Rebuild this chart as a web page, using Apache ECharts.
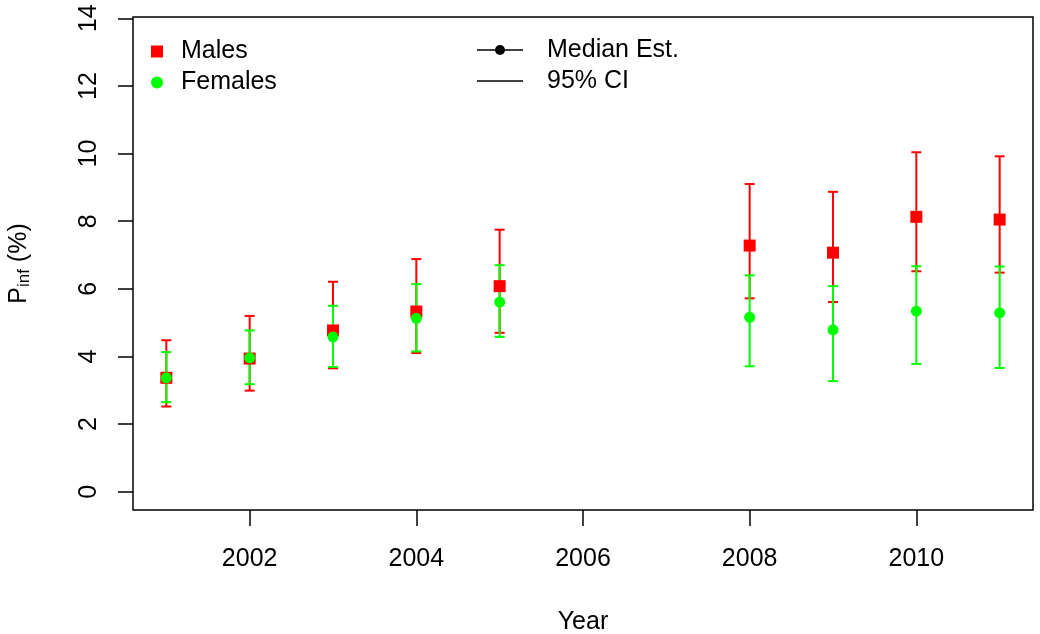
<!DOCTYPE html>
<html>
<head>
    <meta charset="utf-8">
    <script src="https://cdn.jsdelivr.net/npm/echarts@6/dist/echarts.min.js"></script>
    <style>
        html, body { margin: 0; padding: 0; background: #fff; }
    </style>
</head>
<body>
    <div id="main" style="width: 1040px;height:634px;"></div>
</body>
</html>

<script type="text/javascript">

// data
var years = [2001, 2002, 2003, 2004, 2005, 2008, 2009, 2010, 2011];

var maleMed  = [3.37, 3.94, 4.77, 5.33, 6.08, 7.28, 7.07, 8.13, 8.05];
var maleLow  = [2.52, 2.99, 3.65, 4.10, 4.70, 5.72, 5.61, 6.52, 6.48];
var maleHigh = [4.48, 5.20, 6.21, 6.88, 7.75, 9.10, 8.87, 10.04, 9.92];

var femMed  = [3.37, 3.96, 4.58, 5.13, 5.61, 5.16, 4.79, 5.34, 5.29];
var femLow  = [2.65, 3.18, 3.69, 4.15, 4.58, 3.71, 3.27, 3.78, 3.66];
var femHigh = [4.13, 4.77, 5.50, 6.14, 6.70, 6.40, 6.08, 6.67, 6.66];

var xTicks = [2002, 2004, 2006, 2008, 2010];
var yTicks = [0, 2, 4, 6, 8, 10, 12, 14];

var FONT = 'Liberation Sans, Arial, Helvetica, sans-serif';
var RED = '#ff0000';
var GREEN = '#00ff00';

// vertical CI line with little caps
function ciSeries(name, lo, hi, color) {
    return {
        name: name,
        type: 'custom',
        silent: true,
        encode: { x: 0, y: [1, 2] },
        data: years.map(function (y, i) { return [y, lo[i], hi[i]]; }),
        renderItem: function (params, api) {
            var x = api.value(0);
            var a = api.coord([x, api.value(1)]);
            var b = api.coord([x, api.value(2)]);
            var w = 5;
            var st = { stroke: color, lineWidth: 2 };
            return {
                type: 'group',
                children: [
                    { type: 'line', shape: { x1: a[0], y1: a[1], x2: b[0], y2: b[1] }, style: st },
                    { type: 'line', shape: { x1: a[0] - w, y1: a[1], x2: a[0] + w, y2: a[1] }, style: st },
                    { type: 'line', shape: { x1: b[0] - w, y1: b[1], x2: b[0] + w, y2: b[1] }, style: st }
                ]
            };
        }
    };
}

var myChart = echarts.init(document.getElementById('main'));
option = {
    animation: false,
    backgroundColor: '#fff',
    textStyle: { fontFamily: FONT },
    grid: {
        left: 133, top: 17, right: 7, bottom: 124,
        outerBoundsMode: 'none',
        show: true, borderColor: '#000', borderWidth: 1.5,
        backgroundColor: 'transparent'
    },
    legend: {
        data: ['Males', 'Females'],
        orient: 'vertical',
        left: 151, top: 39,
        padding: 0,
        itemWidth: 12, itemHeight: 12,
        itemGap: 6,
        selectedMode: false,
        textStyle: { fontSize: 25, color: '#000', fontFamily: FONT, lineHeight: 25, padding: [0, 0, 0, 13] }
    },
    xAxis: {
        type: 'value',
        min: 2000.6, max: 2011.4,
        name: 'Year',
        nameLocation: 'middle',
        nameGap: 100,
        nameTextStyle: { fontSize: 25, color: '#000', fontFamily: FONT },
        axisLine: { show: false, onZero: false },
        axisTick: { show: true, length: 16, customValues: xTicks, lineStyle: { color: '#000', width: 1.5 } },
        axisLabel: {
            customValues: xTicks, fontSize: 25, color: '#000', margin: 37, fontFamily: FONT,
            formatter: function (v) { return String(v); }
        },
        splitLine: { show: false }
    },
    yAxis: {
        type: 'value',
        min: -0.54, max: 14.04,
        name: '{a|P}{b|inf}{a| (%)}',
        nameLocation: 'middle',
        nameRotate: 90,
        nameGap: 100,
        nameTextStyle: {
            rich: {
                a: { fontSize: 25, color: '#000', fontFamily: FONT },
                b: { fontSize: 17, color: '#000', fontFamily: FONT, padding: [10, 0, 0, 0] }
            }
        },
        axisLine: { show: false, onZero: false },
        axisTick: { show: true, length: 15, customValues: yTicks, lineStyle: { color: '#000', width: 1.5 } },
        axisLabel: { customValues: yTicks, rotate: 90, fontSize: 25, color: '#000', margin: 31, fontFamily: FONT },
        splitLine: { show: false }
    },
    graphic: [
        { type: 'line', shape: { x1: 477, y1: 50, x2: 523, y2: 50 }, style: { stroke: '#000', lineWidth: 1.5 } },
        { type: 'circle', shape: { cx: 500, cy: 50, r: 5 }, style: { fill: '#000' } },
        { type: 'text', left: 547, top: 38, style: { text: 'Median Est.', fontSize: 25, fill: '#000', fontFamily: FONT } },
        { type: 'line', shape: { x1: 477, y1: 81, x2: 523, y2: 81 }, style: { stroke: '#000', lineWidth: 1.5 } },
        { type: 'text', left: 547, top: 69, style: { text: '95% CI', fontSize: 25, fill: '#000', fontFamily: FONT } }
    ],
    series: [
        ciSeries('Males CI', maleLow, maleHigh, RED),
        {
            name: 'Males',
            type: 'scatter',
            symbol: 'rect',
            symbolSize: 12,
            itemStyle: { color: RED, opacity: 1 },
            data: years.map(function (y, i) { return [y, maleMed[i]]; })
        },
        ciSeries('Females CI', femLow, femHigh, GREEN),
        {
            name: 'Females',
            type: 'scatter',
            symbol: 'circle',
            symbolSize: 11,
            itemStyle: { color: GREEN, opacity: 1 },
            data: years.map(function (y, i) { return [y, femMed[i]]; })
        }
    ]
};

myChart.setOption(option);

</script>
